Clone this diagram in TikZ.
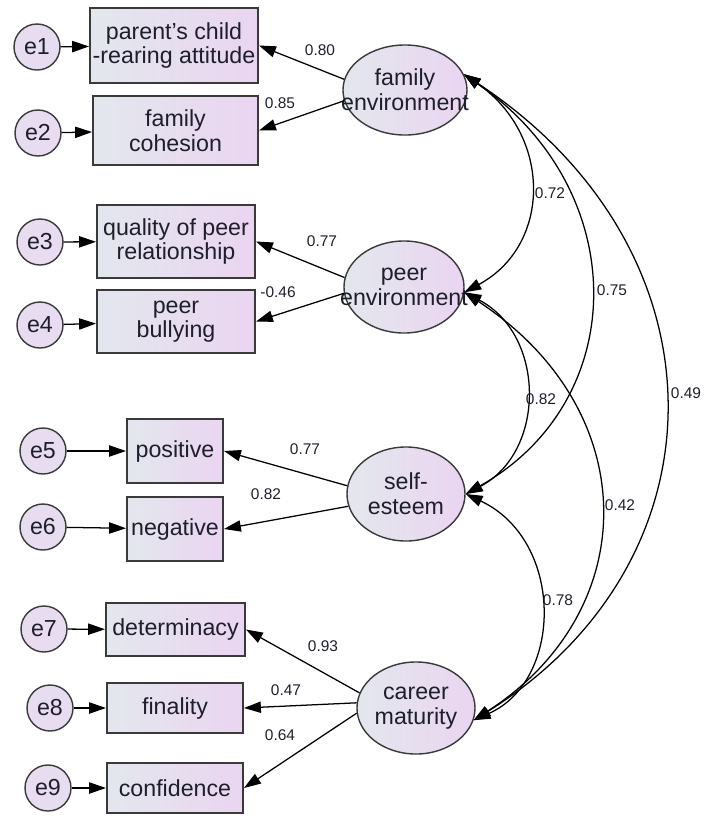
\documentclass[tikz,border=0pt]{standalone}
\usepackage{fontspec}
\setmainfont{Liberation Sans}
\usetikzlibrary{arrows.meta,shapes.geometric}
\definecolor{fillleft}{HTML}{E3E7ED}
\definecolor{fillright}{HTML}{EAD5F1}
\definecolor{errfill}{HTML}{E8DCF0}
\definecolor{linegray}{HTML}{3A3A3A}
\definecolor{textdark}{HTML}{1E1E2C}
\newcommand{\ctr}[1]{\makebox[0pt]{#1}}
\begin{document}
\begin{tikzpicture}[x=0.025cm,y=-0.025cm]
  \tikzstyle{every node}=[font=\fontsize{16.5}{17.5}\selectfont,text=textdark,inner sep=0pt]
  \tikzstyle{obs}=[draw=linegray,line width=1.4pt,left color=fillleft,right color=fillright,align=center]
  \tikzstyle{latent}=[ellipse,draw=linegray,line width=1pt,left color=fillleft,right color=fillright,align=center]
  \tikzstyle{err}=[circle,draw=linegray,line width=1pt,fill=errfill,minimum size=1.15cm]
  \tikzstyle{coef}=[font=\fontsize{11}{12}\selectfont]
  \tikzstyle{load}=[-{Triangle[length=12pt,width=8pt]},line width=0.9pt]
  \tikzstyle{cov}=[{Triangle[length=12pt,width=8pt]}-{Triangle[length=12pt,width=8pt]},line width=0.9pt]

  \useasboundingbox (0,0) rectangle (704,818);

  \node[latent,minimum width=3.1cm,minimum height=2.25cm] (fam) at (405,90) {\ctr{family}\\\ctr{environment}};
  \node[latent,minimum width=3.0cm,minimum height=2.3cm] (peer) at (404,287) {\ctr{peer}\\\ctr{environment}};
  \node[latent,minimum width=2.95cm,minimum height=2.35cm] (self) at (406,494) {\ctr{self-}\\\ctr{esteem}};
  \node[latent,minimum width=2.95cm,minimum height=2.3cm] (career) at (416,708) {\ctr{career}\\\ctr{maturity}};

  \node[obs,minimum width=4.2cm,minimum height=1.875cm] (b1) at (174,45.5) {parent's child\\-rearing attitude};
  \node[obs,minimum width=4.125cm,minimum height=1.725cm] (b2) at (175.5,130.5) {family\\cohesion};
  \node[obs,minimum width=3.95cm,minimum height=1.825cm] (b3) at (176,241.5) {quality of peer\\relationship};
  \node[obs,minimum width=3.95cm,minimum height=1.575cm] (b4) at (176,321.5) {peer\\bullying};
  \node[obs,minimum width=2.4cm,minimum height=1.6cm] (b5) at (175,451) {positive};
  \node[obs,minimum width=2.4cm,minimum height=1.6cm] (b6) at (175,529) {negative};
  \node[obs,minimum width=3.475cm,minimum height=1.325cm] (b7) at (175.5,629.5) {determinacy};
  \node[obs,minimum width=3.4cm,minimum height=1.25cm] (b8) at (175,708) {finality};
  \node[obs,minimum width=3.4cm,minimum height=1.25cm] (b9) at (175,788) {confidence};

  \node[err] (e1) at (37,47) {e1};
  \node[err] (e2) at (38,133) {e2};
  \node[err] (e3) at (40,242) {e3};
  \node[err] (e4) at (40,325) {e4};
  \node[err] (e5) at (43,451) {e5};
  \node[err] (e6) at (43,527) {e6};
  \node[err] (e7) at (44,629) {e7};
  \node[err] (e8) at (50,708) {e8};
  \node[err] (e9) at (48,788) {e9};

  \foreach \i in {1,...,9}
    \draw[load] (e\i) -- (b\i);

  \draw[load] (fam.170) -- (b1.east);
  \draw[load] (fam.190) -- (b2.east);
  \draw[load] (peer.171) -- (b3.east);
  \draw[load] (peer.186) -- (b4.east);
  \draw[load] (self.172) -- (b5.east);
  \draw[load] (self.192) -- (b6.east);
  \draw[load] (career.165) -- (b7.east);
  \draw[load] (career.175) -- (b8.east);
  \draw[load] (career.185) -- (b9.east);

  \node[coef] (l1) at (320,50) {0.80};
  \node[coef] (l2) at (280,103) {0.85};
  \node[coef] (l3) at (322,241) {0.77};
  \node[coef] (l4) at (278,292) {-0.46};
  \node[coef] (l5) at (305,449) {0.77};
  \node[coef] (l6) at (266,494) {0.82};
  \node[coef] (l7) at (323,646) {0.93};
  \node[coef] (l8) at (286,690) {0.47};
  \node[coef] (l9) at (280,735) {0.64};

  \draw[cov] (fam.15) .. controls (552,135) and (552,245) .. (peer.-5);
  \draw[cov] (fam.15) .. controls (632,190) and (632,400) .. (self.0);
  \draw[cov] (fam.15) .. controls (730,250) and (730,560) .. (career.-12);
  \draw[cov] (peer.-5) .. controls (546,335) and (546,452) .. (self.0);
  \draw[cov] (peer.-5) .. controls (644,410) and (644,610) .. (career.-12);
  \draw[cov] (self.0) .. controls (564,540) and (564,680) .. (career.-12);

  \node[coef] (c1) at (550,193) {0.72};
  \node[coef] (c2) at (612,290) {0.75};
  \node[coef] (c3) at (686,393) {0.49};
  \node[coef] (c4) at (541,399) {0.82};
  \node[coef] (c5) at (620,505) {0.42};
  \node[coef] (c6) at (558,600) {0.78};
\end{tikzpicture}
\end{document}
